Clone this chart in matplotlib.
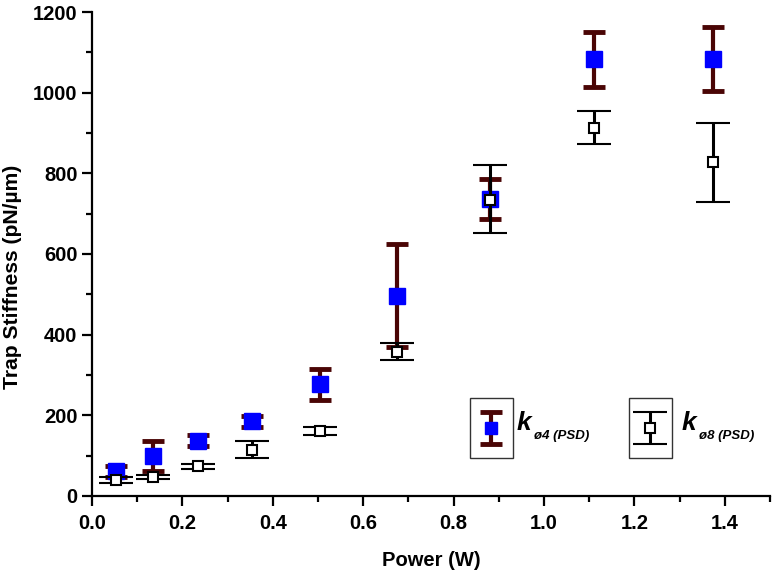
import matplotlib
matplotlib.use("Agg")
import matplotlib.pyplot as plt
from matplotlib.ticker import MultipleLocator
from matplotlib.legend_handler import HandlerErrorbar

plt.rcParams['font.family'] = ['Liberation Sans', 'DejaVu Sans']

power = [0.053, 0.135, 0.235, 0.355, 0.505, 0.675, 0.88, 1.11, 1.375]

k4 = [62, 100, 137, 185, 277, 495, 737, 1083, 1083]
k4_low = [47, 63, 125, 170, 237, 370, 688, 1015, 1003]
k4_high = [75, 135, 150, 198, 315, 625, 787, 1150, 1162]

k8 = [40, 47, 73, 115, 160, 358, 735, 913, 828]
k8_low = [33, 42, 68, 95, 150, 337, 653, 872, 730]
k8_high = [48, 53, 80, 137, 172, 380, 820, 955, 925]

label4_main, label4_sub = "k", "ø4 (PSD)"
label8_main, label8_sub = "k", "ø8 (PSD)"


class CenteredErrorbar(HandlerErrorbar):
    def create_artists(self, legend, orig_handle, xdescent, ydescent, width, height,
                       fontsize, trans):
        return super().create_artists(legend, orig_handle, xdescent, 2 * ydescent,
                                      width, height, fontsize, trans)


fig = plt.figure(figsize=(7.73, 5.74), dpi=100)
ax = fig.add_axes([0.119, 0.136, 0.877, 0.843])

err4 = [[v - l for v, l in zip(k4, k4_low)], [h - v for v, h in zip(k4, k4_high)]]
err8 = [[v - l for v, l in zip(k8, k8_low)], [h - v for v, h in zip(k8, k8_high)]]

h4 = ax.errorbar(power, k4, yerr=err4, fmt='s', color='#0000ff', ms=11, mec='#0000ff',
                 ecolor='#4a0505', elinewidth=3, capsize=8, capthick=3.5, zorder=3)
h8 = ax.errorbar(power, k8, yerr=err8, fmt='s', color='black', ms=7, mfc='white', mec='black',
                 mew=1.5, ecolor='black', elinewidth=2.2, capsize=12, capthick=2.5, zorder=4)

ax.set_xlim(0, 1.5)
ax.set_ylim(0, 1200)
ax.xaxis.set_major_locator(MultipleLocator(0.2))
ax.xaxis.set_minor_locator(MultipleLocator(0.1))
ax.yaxis.set_major_locator(MultipleLocator(200))
ax.yaxis.set_minor_locator(MultipleLocator(100))
ax.xaxis.set_major_formatter(plt.FuncFormatter(lambda v, p: f"{v:.1f}"))
for s in ['top', 'right']:
    ax.spines[s].set_visible(False)
for s in ['left', 'bottom']:
    ax.spines[s].set_linewidth(1.6)
ax.tick_params(which='major', direction='out', length=7, width=1.6, labelsize=14.5)
ax.tick_params(which='minor', direction='out', length=4.5, width=1.6)
ax.tick_params(axis='x', which='major', pad=6)
for lab in ax.get_xticklabels() + ax.get_yticklabels():
    lab.set_fontweight('bold')

ax.set_xlabel("Power (W)", fontsize=14.5, fontweight='bold', labelpad=13)
ax.set_ylabel("Trap Stiffness (pN/µm)", fontsize=15.2, fontweight='bold')
ax.yaxis.set_label_coords(-0.1035, 0.452)

hmap = {h4: CenteredErrorbar(yerr_size=0.95, xerr_size=0.3),
        h8: CenteredErrorbar(yerr_size=0.95, xerr_size=0.3)}
leg_kw = dict(loc='lower left', frameon=True, fancybox=False, edgecolor='black',
              handlelength=1.0, handleheight=2.75, handletextpad=0, borderpad=0.79,
              borderaxespad=0, fontsize=12, handler_map=hmap)
leg1 = ax.legend([h4], [''], bbox_to_anchor=(0.5575, 0.0785), markerscale=0.8, **leg_kw)
leg1.get_frame().set_linewidth(1.0)
ax.add_artist(leg1)
leg2 = ax.legend([h8], [''], bbox_to_anchor=(0.792, 0.0785), markerscale=1.0, **leg_kw)
leg2.get_frame().set_linewidth(1.0)

t1 = ax.text(0.627, 0.137, label4_main, transform=ax.transAxes, fontsize=19,
             fontweight='bold', style='italic', va='baseline')
ax.annotate(label4_sub, xy=(1, 0), xycoords=t1, xytext=(2, 3.6), textcoords='offset points',
            fontsize=9.5, fontweight='bold', style='italic', va='top')
t2 = ax.text(0.870, 0.137, label8_main, transform=ax.transAxes, fontsize=19,
             fontweight='bold', style='italic', va='baseline')
ax.annotate(label8_sub, xy=(1, 0), xycoords=t2, xytext=(2, 3.6), textcoords='offset points',
            fontsize=9.5, fontweight='bold', style='italic', va='top')

fig.savefig("out.png", dpi=100)
